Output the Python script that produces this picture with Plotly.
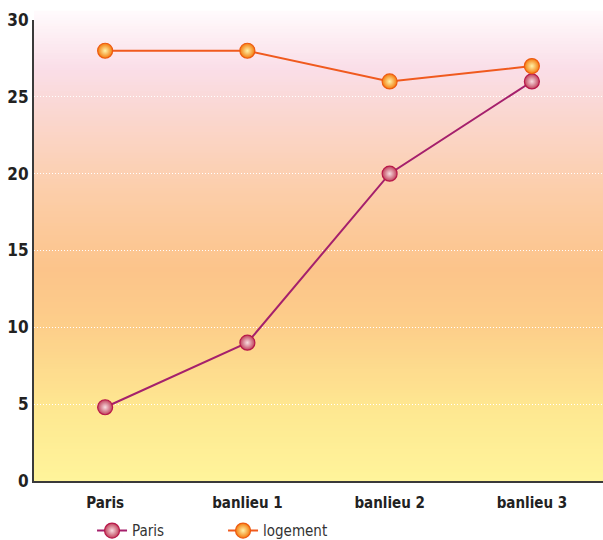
import plotly.graph_objects as go

# Chart data
categories = ["Paris", "banlieu 1", "banlieu 2", "banlieu 3"]
paris_values = [4.8, 9, 20, 26]
logement_values = [28, 28, 26, 27]
y_ticks = [0, 5, 10, 15, 20, 25, 30]

FONT = "DejaVu Sans Condensed, Liberation Sans Narrow, sans-serif"

fig = go.Figure()

# Radial gradient: gradient.color is the centre, marker.color the rim
fig.add_trace(go.Scatter(
    x=categories, y=paris_values, name="Paris", mode="lines+markers",
    line=dict(color="#a5206c", width=2),
    marker=dict(size=15, color="#c0405a",
                gradient=dict(type="radial", color="#f8dde0"),
                line=dict(color="#b8184a", width=1.2)),
))
fig.add_trace(go.Scatter(
    x=categories, y=logement_values, name="logement", mode="lines+markers",
    line=dict(color="#f05a1e", width=2),
    marker=dict(size=15, color="#f37a0c",
                gradient=dict(type="radial", color="#fff3a8"),
                line=dict(color="#ee5a10", width=1.2)),
))

# Vertical background gradient (bottom yellow -> orange -> pink -> white)
stops = [
    (0.00, (255, 244, 155)),
    (0.15, (254, 232, 145)),
    (0.33, (253, 206, 138)),
    (0.45, (252, 196, 138)),
    (0.62, (252, 206, 170)),
    (0.80, (250, 216, 212)),
    (0.88, (250, 222, 232)),
    (1.00, (255, 250, 252)),
]


def color_at(t):
    for (t0, c0), (t1, c1) in zip(stops[:-1], stops[1:]):
        if t0 <= t <= t1:
            f = (t - t0) / (t1 - t0) if t1 > t0 else 0
            c = [round(a + (b - a) * f) for a, b in zip(c0, c1)]
            return "rgb({},{},{})".format(*c)
    return "rgb({},{},{})".format(*stops[-1][1])


n = 160
top = 1.018
shapes = []
for i in range(n):
    y0 = top * i / n
    y1 = top * (i + 1) / n + 0.002
    t = min(1.0, (y0 + y1) / 2 / top)
    shapes.append(dict(type="rect", xref="paper", yref="paper",
                       x0=0, x1=1, y0=y0, y1=y1, layer="below",
                       fillcolor=color_at(t), line=dict(width=0)))

fig.update_layout(
    width=603, height=540,
    margin=dict(l=34, r=0, t=20, b=59, autoexpand=False),
    paper_bgcolor="white",
    plot_bgcolor="rgba(0,0,0,0)",
    shapes=shapes,
    showlegend=True,
    legend=dict(orientation="h", x=0.102, y=-0.108, xanchor="left", yanchor="middle",
                font=dict(family=FONT, size=15, color="#333333"),
                entrywidth=86, bgcolor="rgba(0,0,0,0)"),
    xaxis=dict(
        type="category", range=[-0.5, 3.5],
        showgrid=False, showline=True, linecolor="#3a3a3a", linewidth=2,
        ticks="", ticklabelstandoff=7,
        tickfont=dict(family=FONT, size=15, color="#222222", weight="bold"),
        zeroline=False,
    ),
    yaxis=dict(
        range=[0, 30], tickvals=y_ticks,
        showgrid=True, gridcolor="rgba(255,255,255,1)", griddash="1px,2px", gridwidth=1,
        showline=True, linecolor="#3a3a3a", linewidth=2,
        ticks="", ticklabelstandoff=0,
        tickfont=dict(family=FONT, size=17, color="#222222", weight="bold"),
        zeroline=False,
    ),
)

fig.write_html("out.html")
